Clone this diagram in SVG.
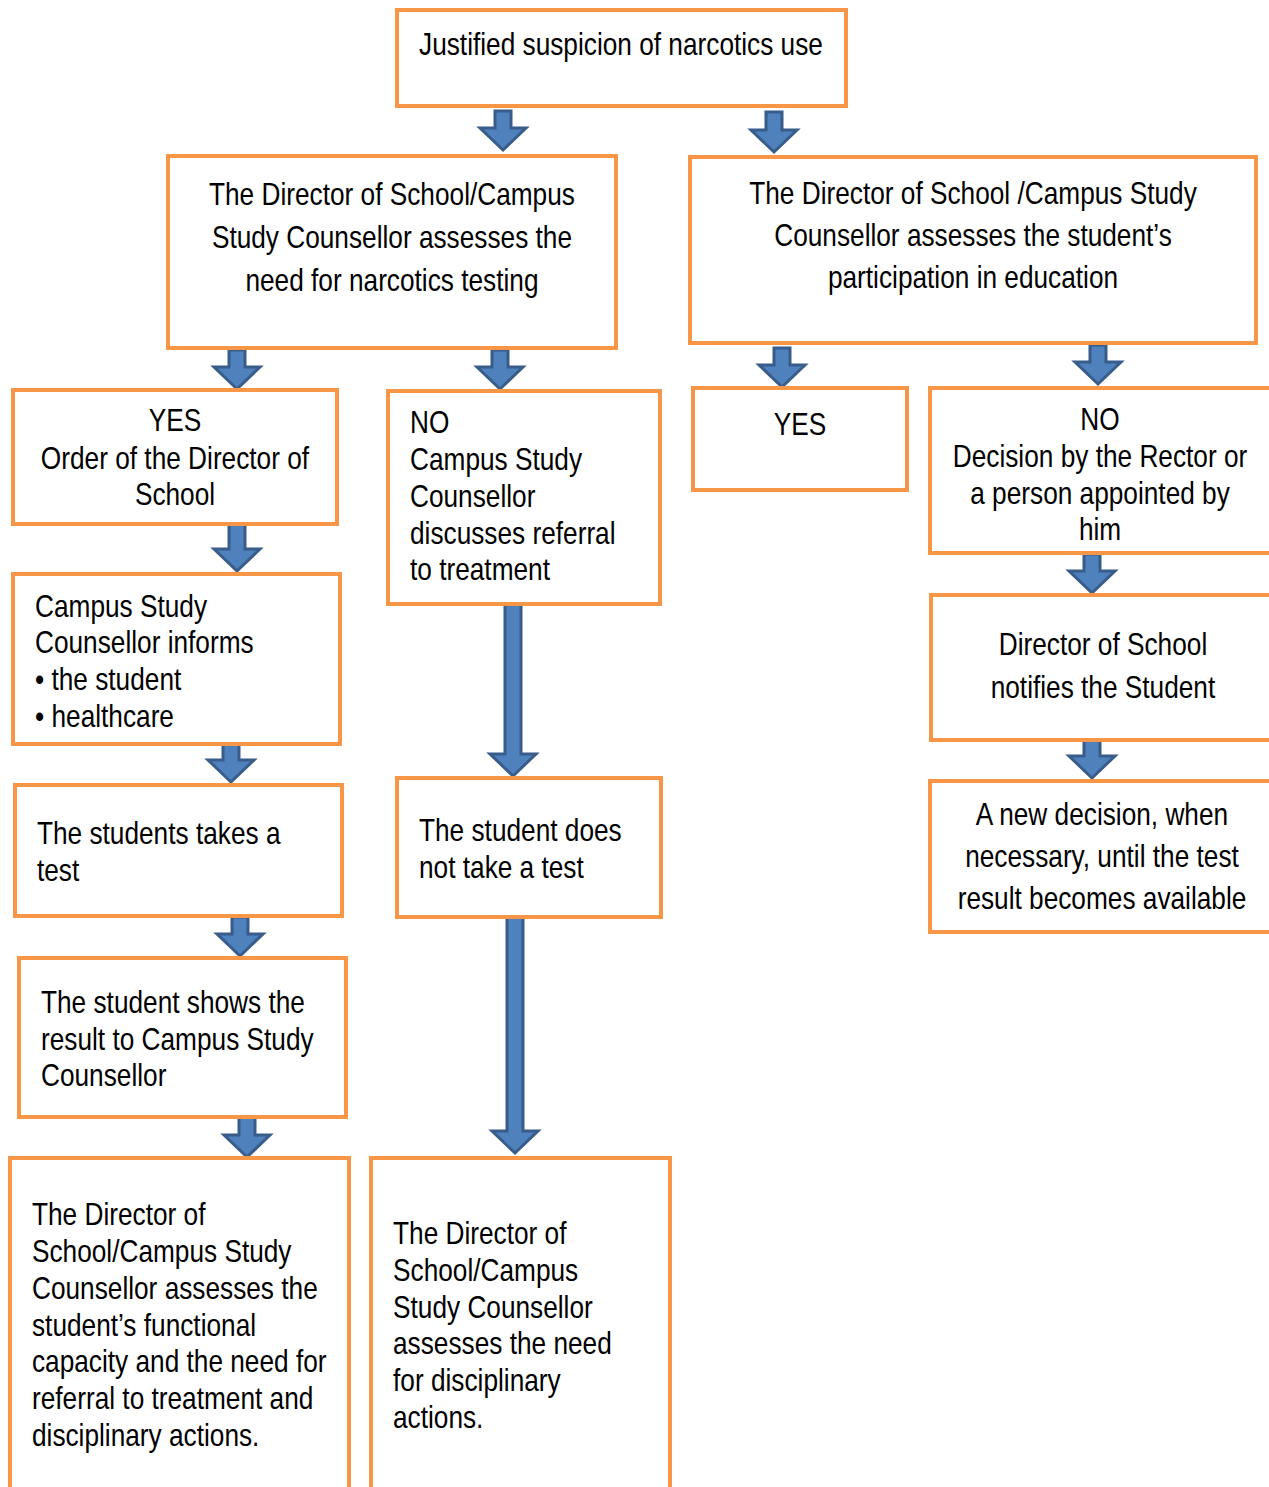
<svg xmlns="http://www.w3.org/2000/svg" width="1269" height="1487" viewBox="0 0 1269 1487">
<style>
.box{fill:#fff;stroke:#F79646;stroke-width:4}
.arr{fill:#4F81BD;stroke:#385D8A;stroke-width:3;stroke-linejoin:miter}
text{font-family:"Liberation Sans Narrow","Liberation Sans",Arial,sans-serif;font-size:32px;fill:#000}
.c{text-anchor:middle}
</style>
<g id="connectors">
<path class="arr" d="M495,111 H511 V128 H526 L503,150 L480,128 H495 Z"/>
<path class="arr" d="M766,112 H782 V130 H797 L774,152 L751,130 H766 Z"/>
<path class="arr" d="M229,350 H245 V367 H260 L237,389 L214,367 H229 Z"/>
<path class="arr" d="M492,350 H508 V367 H523 L500,389 L477,367 H492 Z"/>
<path class="arr" d="M774,348 H790 V365 H805 L782,387 L759,365 H774 Z"/>
<path class="arr" d="M1090,345 H1106 V362 H1121 L1098,384 L1075,362 H1090 Z"/>
<path class="arr" d="M229,523 H245 V549 H260 L237,571 L214,549 H229 Z"/>
<path class="arr" d="M505,602 H521 V754 H536 L513,776 L490,754 H505 Z"/>
<path class="arr" d="M1084,554 H1100 V571 H1115 L1092,593 L1069,571 H1084 Z"/>
<path class="arr" d="M223,743 H239 V760 H254 L231,782 L208,760 H223 Z"/>
<path class="arr" d="M1084,739 H1100 V756 H1115 L1092,778 L1069,756 H1084 Z"/>
<path class="arr" d="M232,917 H248 V934 H263 L240,956 L217,934 H232 Z"/>
<path class="arr" d="M507,916 H523 V1131 H538 L515,1153 L492,1131 H507 Z"/>
<path class="arr" d="M239,1117 H255 V1135 H270 L247,1157 L224,1135 H239 Z"/>
</g>
<g id="n1"><rect class="box" x="397" y="10" width="449" height="96"/>
<g transform="scale(0.82 1)"><text class="c" x="757.3" y="55">Justified suspicion of narcotics use</text></g></g>
<g id="n2"><rect class="box" x="168" y="156" width="448" height="192"/>
<g transform="scale(0.82 1)"><text class="c" x="478" y="205">The Director of School/Campus</text>
<text class="c" x="478" y="248">Study Counsellor assesses the</text>
<text class="c" x="478" y="291">need for narcotics testing</text></g></g>
<g id="n3"><rect class="box" x="690" y="157" width="566" height="186"/>
<g transform="scale(0.82 1)"><text class="c" x="1186.6" y="204">The Director of School /Campus Study</text>
<text class="c" x="1186.6" y="246">Counsellor assesses the student’s</text>
<text class="c" x="1186.6" y="288">participation in education</text></g></g>
<g id="n4"><rect class="box" x="13" y="390" width="324" height="134"/>
<g transform="scale(0.82 1)"><text class="c" x="213.4" y="431">YES</text>
<text class="c" x="213.4" y="469">Order of the Director of</text>
<text class="c" x="213.4" y="505">School</text></g></g>
<g id="n5"><rect class="box" x="388" y="391" width="272" height="213"/>
<g transform="scale(0.82 1)"><text x="500" y="433">NO</text>
<text x="500" y="470">Campus Study</text>
<text x="500" y="507">Counsellor</text>
<text x="500" y="544">discusses referral</text>
<text x="500" y="580">to treatment</text></g></g>
<g id="n6"><rect class="box" x="693" y="388" width="214" height="102"/>
<g transform="scale(0.82 1)"><text class="c" x="975.6" y="435">YES</text></g></g>
<g id="n7"><rect class="box" x="930" y="388" width="345" height="165"/>
<g transform="scale(0.82 1)"><text class="c" x="1341.5" y="430">NO</text>
<text class="c" x="1341.5" y="467">Decision by the Rector or</text>
<text class="c" x="1341.5" y="504">a person appointed by</text>
<text class="c" x="1341.5" y="540">him</text></g></g>
<g id="n8"><rect class="box" x="13" y="574" width="327" height="170"/>
<g transform="scale(0.82 1)"><text x="42.7" y="617">Campus Study</text>
<text x="42.7" y="653">Counsellor informs</text>
<text x="42.7" y="690">• the student</text>
<text x="42.7" y="727">• healthcare</text></g></g>
<g id="n9"><rect class="box" x="931" y="595" width="344" height="145"/>
<g transform="scale(0.82 1)"><text class="c" x="1345.1" y="655">Director of School</text>
<text class="c" x="1345.1" y="698">notifies the Student</text></g></g>
<g id="n10"><rect class="box" x="15" y="785" width="327" height="131"/>
<g transform="scale(0.82 1)"><text x="45.1" y="844">The students takes a</text>
<text x="45.1" y="881">test</text></g></g>
<g id="n11"><rect class="box" x="397" y="778" width="264" height="139"/>
<g transform="scale(0.82 1)"><text x="511" y="841">The student does</text>
<text x="511" y="878">not take a test</text></g></g>
<g id="n12"><rect class="box" x="930" y="781" width="345" height="151"/>
<g transform="scale(0.82 1)"><text class="c" x="1343.9" y="825">A new decision, when</text>
<text class="c" x="1343.9" y="867">necessary, until the test</text>
<text class="c" x="1343.9" y="909">result becomes available</text></g></g>
<g id="n13"><rect class="box" x="19" y="958" width="327" height="159"/>
<g transform="scale(0.82 1)"><text x="50" y="1013">The student shows the</text>
<text x="50" y="1050">result to Campus Study</text>
<text x="50" y="1086">Counsellor</text></g></g>
<g id="n14"><rect class="box" x="10" y="1158" width="339" height="360"/>
<g transform="scale(0.82 1)"><text x="39" y="1225">The Director of</text>
<text x="39" y="1262">School/Campus Study</text>
<text x="39" y="1299">Counsellor assesses the</text>
<text x="39" y="1336">student’s functional</text>
<text x="39" y="1372">capacity and the need for</text>
<text x="39" y="1409">referral to treatment and</text>
<text x="39" y="1446">disciplinary actions.</text></g></g>
<g id="n15"><rect class="box" x="371" y="1158" width="299" height="360"/>
<g transform="scale(0.82 1)"><text x="479.3" y="1244">The Director of</text>
<text x="479.3" y="1281">School/Campus</text>
<text x="479.3" y="1318">Study Counsellor</text>
<text x="479.3" y="1354">assesses the need</text>
<text x="479.3" y="1391">for disciplinary</text>
<text x="479.3" y="1428">actions.</text></g></g>
</svg>
